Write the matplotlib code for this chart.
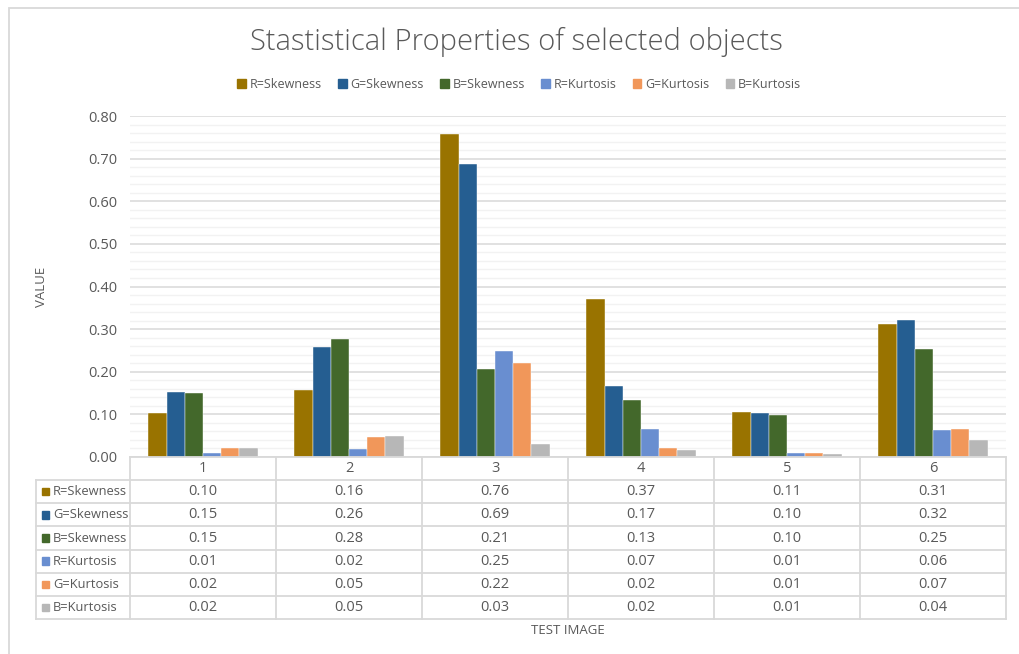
import matplotlib
matplotlib.use("Agg")
import matplotlib.pyplot as plt
from matplotlib.patches import Rectangle
import numpy as np

plt.rcParams['font.family'] = ['Open Sans', 'DejaVu Sans']

# ---- data ----
categories = ["1", "2", "3", "4", "5", "6"]
series_names = ["R=Skewness", "G=Skewness", "B=Skewness",
                "R=Kurtosis", "G=Kurtosis", "B=Kurtosis"]
r_skewness = [0.104, 0.157, 0.757, 0.371, 0.106, 0.311]
g_skewness = [0.153, 0.258, 0.688, 0.166, 0.103, 0.322]
b_skewness = [0.150, 0.276, 0.206, 0.134, 0.099, 0.253]
r_kurtosis = [0.009, 0.019, 0.249, 0.066, 0.009, 0.063]
g_kurtosis = [0.022, 0.046, 0.221, 0.020, 0.009, 0.066]
b_kurtosis = [0.022, 0.050, 0.030, 0.016, 0.007, 0.040]
y_ticks = [0.0, 0.1, 0.2, 0.3, 0.4, 0.5, 0.6, 0.7, 0.8]

series_values = [r_skewness, g_skewness, b_skewness,
                 r_kurtosis, g_kurtosis, b_kurtosis]
colors = ["#997300", "#255E91", "#43682B", "#698ED0", "#F1975A", "#B7B7B7"]

TEXT = "#595959"
GRID = "#D9D9D9"
MINOR = "#F2F2F2"

W, H = 1019, 654
fig = plt.figure(figsize=(W / 100, H / 100), dpi=100)

def fx(px):
    return px / W

def fy(py):
    return 1 - py / H

# chart border
fig.add_artist(Rectangle((fx(8.5), fy(700)), fx(1100), fy(7.5) - fy(700),
                         transform=fig.transFigure, fill=False,
                         edgecolor=GRID, lw=1.3))

# ---- plot area ----
left_px, right_px, top_px, bottom_px = 130, 1006, 116, 457
ax = fig.add_axes([fx(left_px), fy(bottom_px),
                   fx(right_px) - fx(left_px), fy(top_px) - fy(bottom_px)])
n_cat = len(categories)
n_ser = len(series_names)
x = np.arange(n_cat)
bar_w = 0.747 / n_ser
for i, (name, vals, c) in enumerate(zip(series_names, series_values, colors)):
    offs = (i - (n_ser - 1) / 2) * bar_w
    ax.bar(x + offs, vals, width=bar_w, color=c, label=name, zorder=3,
           edgecolor="white", linewidth=0.3)

ax.set_xlim(-0.5, n_cat - 0.5)
ax.set_ylim(0, 0.8)
ax.set_yticks(y_ticks)
ax.set_yticklabels([f"{v:.2f}" for v in y_ticks])
ax.set_yticks(np.arange(0, 0.8001, 0.02), minor=True)
ax.grid(axis="y", which="major", color=GRID, lw=1.1, zorder=1)
ax.grid(axis="y", which="minor", color=MINOR, lw=1.0, zorder=0)
ax.tick_params(axis="y", which="both", length=0, pad=9, labelsize=10.5,
               labelcolor=TEXT)
ax.tick_params(axis="x", which="both", length=0, labelbottom=False)
for s in ax.spines.values():
    s.set_visible(False)
ax.set_ylabel("VALUE", color=TEXT, fontsize=9.5, labelpad=29)

# ---- data table ----
tbl_top, tbl_bot = 457, 619
tax = fig.add_axes([fx(left_px), fy(tbl_bot),
                    fx(right_px) - fx(left_px), fy(tbl_top) - fy(tbl_bot)])
tax.set_xlim(-0.5, n_cat - 0.5)
n_rows = n_ser + 1
tax.set_ylim(n_rows, 0)
tax.axis("off")
unit_px = (right_px - left_px) / n_cat
lab_left = -0.5 - (left_px - 36) / unit_px
line_kw = dict(color=GRID, lw=1.3, clip_on=False)
tax.plot([-0.5, n_cat - 0.5], [0, 0], **line_kw)
for r in range(1, n_rows + 1):
    tax.plot([lab_left, n_cat - 0.5], [r, r], **line_kw)
for k in range(n_cat + 1):
    tax.plot([k - 0.5, k - 0.5], [0, n_rows], **line_kw)
tax.plot([lab_left, lab_left], [1, n_rows], **line_kw)

for k, cat in enumerate(categories):
    tax.text(k, 0.5, cat, ha="center", va="center", color=TEXT, fontsize=10.5)
sw_px = 7.5
rh = (tbl_bot - tbl_top) / n_rows
for r, (name, vals, c) in enumerate(zip(series_names, series_values, colors), start=1):
    for k, v in enumerate(vals):
        tax.text(k, r + 0.5, f"{v:.2f}", ha="center", va="center",
                 color=TEXT, fontsize=10.5)
    x0 = lab_left + (41.5 - 36) / unit_px
    tax.add_patch(Rectangle((x0, r + 0.5 - sw_px / 2 / rh), sw_px / unit_px,
                            sw_px / rh, color=c, clip_on=False))
    tax.text(lab_left + (53 - 36) / unit_px, r + 0.5, name, ha="left",
             va="center", color=TEXT, fontsize=9.3)

fig.text(fx((left_px + right_px) / 2), fy(631), "TEST IMAGE", ha="center",
         va="center", color=TEXT, fontsize=9.5)

# ---- title & legend ----
fig.text(fx(516), fy(42), "Stastistical Properties of selected objects",
         ha="center", va="center", color=TEXT, fontsize=21, fontweight="light")
handles = [Rectangle((0, 0), 1, 1, color=c) for c in colors]
fig.legend(handles, series_names, loc="center", bbox_to_anchor=(fx(519), fy(84)),
           ncol=n_ser, frameon=False, fontsize=9, labelcolor=TEXT,
           handlelength=0.7, handleheight=0.7, handletextpad=0.3,
           columnspacing=1.3)

fig.savefig("out.png", dpi=100)
